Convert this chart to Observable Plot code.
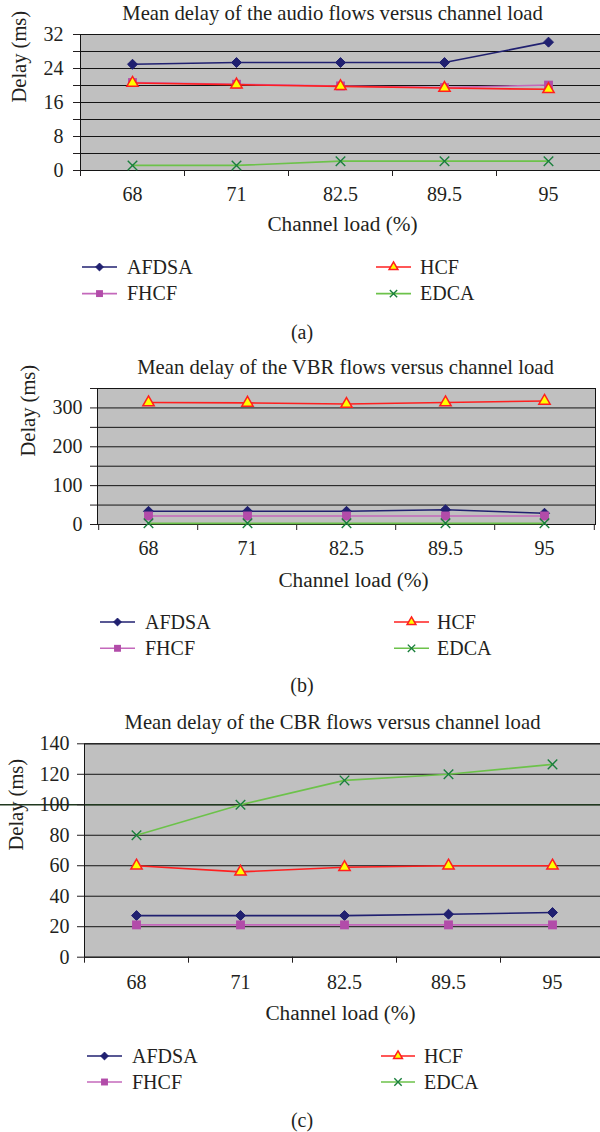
<!DOCTYPE html>
<html>
<head>
<meta charset="utf-8">
<script src="https://cdn.jsdelivr.net/npm/d3@7"></script>
<script src="https://cdn.jsdelivr.net/npm/@observablehq/plot@0.6"></script>
<style>
  html, body { margin: 0; padding: 0; background: #fff; }
  #page { position: relative; width: 600px; height: 1132px; overflow: hidden; }
</style>
</head>
<body>
<div id="page"></div>
<script>
// Channel load categories (%) shared by all three panels
const loads = ["68", "71", "82.5", "89.5", "95"];
const seriesNames = ["AFDSA", "FHCF", "HCF", "EDCA"];

// (a) audio flows, mean delay (ms)
const audioAFDSA = [25.0, 25.4, 25.4, 25.4, 30.2];
const audioFHCF  = [20.7, 20.3, 19.9, 19.5, 20.1];
const audioHCF   = [20.6, 20.2, 19.8, 19.4, 19.1];
const audioEDCA  = [1.2, 1.2, 2.2, 2.2, 2.2];
const audioGrid   = [0, 4, 8, 12, 16, 20, 24, 28, 32];
const audioLabels = [0, 8, 16, 24, 32];

// (b) VBR flows, mean delay (ms)
const vbrAFDSA = [34, 34, 34, 38, 29];
const vbrFHCF  = [22, 22, 22, 22, 22];
const vbrHCF   = [314, 313, 310, 314, 318];
const vbrEDCA  = [3, 3, 3, 3, 3];
const vbrGrid   = [0, 50, 100, 150, 200, 250, 300, 350];
const vbrLabels = [0, 100, 200, 300];

// (c) CBR flows, mean delay (ms)
const cbrAFDSA = [27.3, 27.3, 27.3, 28.2, 29.3];
const cbrFHCF  = [21.2, 21.2, 21.2, 21.2, 21.2];
const cbrHCF   = [60, 56, 59, 60, 60];
const cbrEDCA  = [80, 100, 116, 120, 126.5];
const cbrGrid   = [0, 20, 40, 60, 80, 100, 120, 140];
const cbrLabels = [0, 20, 40, 60, 80, 100, 120, 140];
const cbrAccent = [100];

const titles = [
  "Mean delay of the audio flows versus channel load",
  "Mean delay of the VBR flows versus channel load",
  "Mean delay of the CBR flows versus channel load"
];
const yTitle = "Delay (ms)";
const xTitle = "Channel load (%)";
const captions = ["(a)", "(b)", "(c)"];

const pageFont = '"Liberation Serif", "Times New Roman", serif';
const ink = "#231f20";

const seriesStyle = {
  AFDSA: {line: "#202070", symbol: "diamond2", r: 4.5, fill: "#202070", stroke: "#202070", strokeWidth: 1},
  FHCF:  {line: "#c468bb", symbol: "square",   r: 5.0, fill: "#b24ca9", stroke: "none",    strokeWidth: 0},
  HCF:   {line: "#ff1f1f", symbol: "triangle", r: 4.2, fill: "#ffff00", stroke: "#ff1f1f", strokeWidth: 1.5},
  EDCA:  {line: "#6cc24a", symbol: "times",    r: 4.4, fill: "none",    stroke: "#1a7f3c", strokeWidth: 1.4}
};
const symbolTypes = {diamond2: d3.symbolDiamond2, square: d3.symbolSquare, triangle: d3.symbolTriangle, times: d3.symbolTimes};

const page = document.getElementById("page");

function drawChart(cfg) {
  const rows = seriesNames.flatMap(name =>
    cfg.values[name].map((v, i) => ({load: loads[i], delay: v, series: name})));
  const step = (cfg.xRange[1] - cfg.xRange[0]) / loads.length;

  const marks = [
    Plot.frame({fill: "#c0c0c0"}),
    Plot.ruleY(cfg.grid, {stroke: "#141414", strokeWidth: 1})
  ];
  if (cfg.accent) {
    marks.push(Plot.ruleY(cfg.accent, {stroke: "#20391f", strokeWidth: 1.4, insetLeft: -cfg.marginLeft}));
  }
  marks.push(
    Plot.frame({stroke: "#141414", strokeWidth: 1}),
    Plot.axisY({ticks: cfg.grid, tickSize: 7, tickFormat: () => "", label: null}),
    Plot.axisY({ticks: cfg.labels, tickSize: 0, tickPadding: cfg.yPad, label: null}),
    Plot.axisX({ticks: loads, tickSize: 0, tickPadding: cfg.xPad, label: null}),
    Plot.axisX({ticks: loads, tickSize: 6, tickFormat: () => "", dx: -step / 2, label: null})
  );
  if (cfg.closingTick) {
    marks.push(Plot.axisX({ticks: loads.slice(-1), tickSize: 6, tickFormat: () => "", dx: step / 2, label: null}));
  }
  for (const name of seriesNames) {
    const s = seriesStyle[name];
    const d = rows.filter(r => r.series === name);
    marks.push(Plot.line(d, {x: "load", y: "delay", stroke: s.line, strokeWidth: 1.6}));
    marks.push(Plot.dot(d, {x: "load", y: "delay", symbol: s.symbol, r: s.r,
      fill: s.fill, stroke: s.stroke, strokeWidth: s.strokeWidth}));
  }
  marks.push(
    Plot.text([cfg.title], {text: d => d, frameAnchor: "top", lineAnchor: "middle",
      dx: cfg.titleDx, dy: cfg.titleDy, fontSize: 20.7}),
    Plot.text([yTitle], {text: d => d, frameAnchor: "left", lineAnchor: "middle", rotate: -90,
      dx: cfg.yTitleDx, fontSize: 20.5}),
    Plot.text([xTitle], {text: d => d, frameAnchor: "bottom", lineAnchor: "middle",
      dx: cfg.xTitleDx, dy: cfg.xTitleDy, fontSize: 21.3})
  );

  const svg = Plot.plot({
    width: 600,
    height: cfg.height,
    marginTop: cfg.marginTop,
    marginBottom: cfg.marginBottom,
    marginLeft: cfg.marginLeft,
    marginRight: cfg.marginRight,
    x: {type: "point", domain: loads, range: cfg.xRange, padding: 0.5, label: null},
    y: {domain: cfg.yDomain, label: null},
    style: {fontFamily: pageFont, fontSize: "20px", color: ink, background: "transparent", overflow: "visible"},
    marks
  });
  svg.style.position = "absolute";
  svg.style.left = "0px";
  svg.style.top = cfg.top + "px";
  page.append(svg);
}

function drawLegend(L, caption) {
  const svg = d3.select(page).append("svg")
    .attr("width", 600).attr("height", 100)
    .style("position", "absolute").style("left", "0px").style("top", L.top + "px")
    .attr("font-family", pageFont).attr("font-size", 20).attr("fill", ink);
  const placements = [["AFDSA", 0, 0], ["HCF", 1, 0], ["FHCF", 0, 1], ["EDCA", 1, 1]];
  for (const [name, col, row] of placements) {
    const s = seriesStyle[name];
    const [x1, x2, tx] = col ? L.right : L.left;
    const y = L.rows[row];
    svg.append("line").attr("x1", x1).attr("x2", x2).attr("y1", y).attr("y2", y)
      .attr("stroke", s.line).attr("stroke-width", 1.6);
    svg.append("path").attr("transform", `translate(${(x1 + x2) / 2},${y})`)
      .attr("d", d3.symbol(symbolTypes[s.symbol], Math.PI * (s.r * 0.78) ** 2)())
      .attr("fill", s.fill).attr("stroke", s.stroke).attr("stroke-width", s.strokeWidth);
    svg.append("text").attr("x", tx).attr("y", y).attr("dy", "0.33em").text(name);
  }
  svg.append("text").attr("x", L.caption[0]).attr("y", L.caption[1])
    .attr("dy", "0.33em").attr("text-anchor", "middle").text(caption);
}

drawChart({
  top: 0, height: 240, marginTop: 34, marginBottom: 70, marginLeft: 80, marginRight: 0,
  xRange: [80, 600], yDomain: [0, 32], grid: audioGrid, labels: audioLabels,
  values: {AFDSA: audioAFDSA, FHCF: audioFHCF, HCF: audioHCF, EDCA: audioEDCA},
  yPad: 17, xPad: 16, title: titles[0], titleDx: -8, titleDy: -21,
  yTitleDx: -61, xTitleDx: 2, xTitleDy: 54
});
drawLegend({top: 246.7, rows: [20, 46.6], left: [82, 117, 127], right: [376, 411, 420], caption: [302, 85]}, captions[0]);

drawChart({
  top: 340, height: 250, marginTop: 48, marginBottom: 66, marginLeft: 97, marginRight: 5,
  xRange: [97, 595], yDomain: [0, 350], grid: vbrGrid, labels: vbrLabels,
  values: {AFDSA: vbrAFDSA, FHCF: vbrFHCF, HCF: vbrHCF, EDCA: vbrEDCA},
  yPad: 15, xPad: 16, title: titles[1], titleDx: -1, titleDy: -21.3,
  yTitleDx: -69.5, xTitleDx: 7, xTitleDy: 56, closingTick: true
});
drawLegend({top: 601.7, rows: [20, 46.3], left: [100, 135, 145], right: [394, 429, 437], caption: [302, 83.3]}, captions[1]);

drawChart({
  top: 700, height: 330, marginTop: 43.3, marginBottom: 73.3, marginLeft: 84, marginRight: 0,
  xRange: [84, 604], yDomain: [0, 140], grid: cbrGrid, labels: cbrLabels, accent: cbrAccent,
  values: {AFDSA: cbrAFDSA, FHCF: cbrFHCF, HCF: cbrHCF, EDCA: cbrEDCA},
  yPad: 15, xPad: 18, title: titles[2], titleDx: -10, titleDy: -21.6,
  yTitleDx: -68, xTitleDx: -2, xTitleDy: 56.3
});
drawLegend({top: 1035.7, rows: [20, 46], left: [87, 122, 132], right: [381, 415, 424], caption: [302, 84.3]}, captions[2]);
</script>
</body>
</html>
